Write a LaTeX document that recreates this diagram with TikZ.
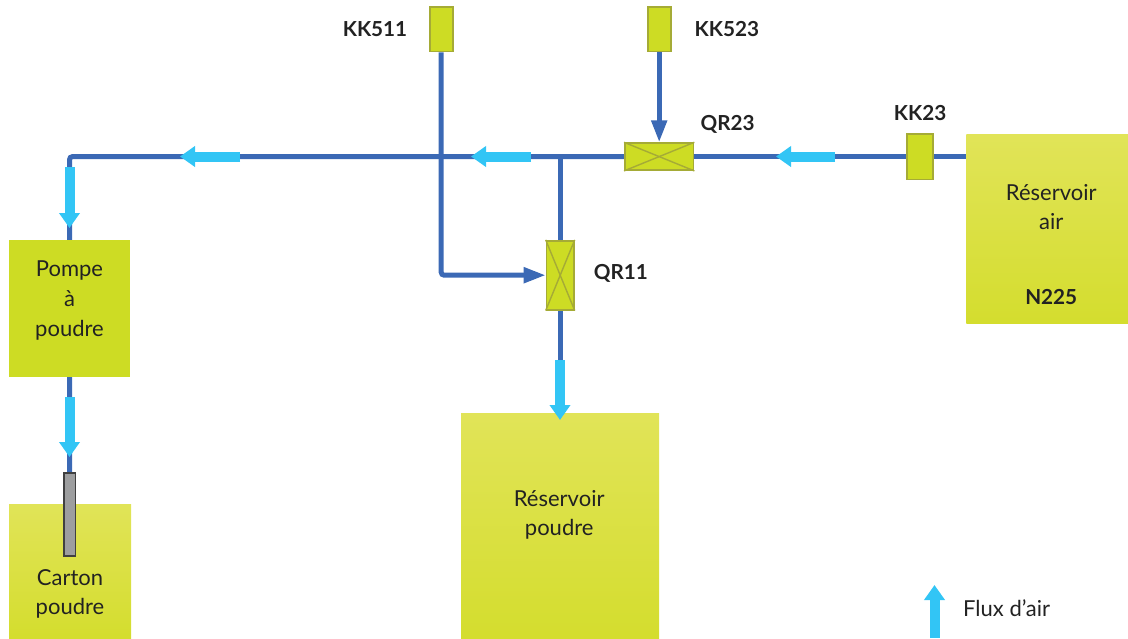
\documentclass[tikz,border=0pt]{standalone}
\usepackage{fontspec}
\usepackage{xcolor}
\setmainfont{Lato}
\usetikzlibrary{arrows.meta, positioning, backgrounds}
\definecolor{pipeblue}{HTML}{3B69B5}
\definecolor{flowblue}{HTML}{32C5F5}
\definecolor{lime}{HTML}{CDDC24}
\definecolor{limetop}{HTML}{E1E458}
\definecolor{limebot}{HTML}{D4DD2E}
\definecolor{limeedge}{HTML}{A5AB36}
\definecolor{inkdark}{HTML}{222222}
\definecolor{rodgrey}{HTML}{9D9E9F}

\begin{document}
\begin{tikzpicture}[
    x=1pt, y=-1pt,
    node distance=20pt,
    tank/.style={rectangle, shading=axis, top color=limetop, bottom color=limebot, outer sep=0pt, inner sep=0pt},
    pump/.style={rectangle, fill=lime, outer sep=0pt, inner sep=0pt},
    sensor/.style={rectangle, draw=limeedge, line width=1.6pt, fill=lime, outer sep=0.8pt, inner sep=0pt, minimum width=23pt, minimum height=44.4pt},
    valve/.style={rectangle, draw=limeedge, line width=1.6pt, fill=lime, outer sep=0.8pt, inner sep=0pt},
    rod/.style={rectangle, draw=black!75, line width=1.4pt, fill=rodgrey, outer sep=0.7pt, inner sep=0pt, minimum width=11.3pt, minimum height=83pt},
    tanktext/.style={align=center, font=\fontsize{22}{29.7}\selectfont, text=inkdark, inner sep=0pt},
    tag/.style={font=\fontsize{20.7}{24}\selectfont\bfseries, text=inkdark, inner sep=0pt},
    pipe/.style={draw=pipeblue, line width=5pt, rounded corners=3pt},
    feed/.style={pipe, -{Triangle[length=22pt, width=15pt]}},
    flow/.style={draw=flowblue, line width=10pt, -{Triangle[length=15pt, width=20pt]}}
]
\useasboundingbox (0,0) rectangle (1128,638);

\node[pump, minimum width=121pt, minimum height=137pt] (pompe) at (69.5,308.5) {};
\node[tank, minimum width=122pt, minimum height=134pt, below=127pt of pompe, xshift=0.5pt] (carton) {};
\node[rod] (canne) at (69.7,514.5) {};
\node[valve, minimum width=68.7pt, minimum height=27pt] (qr23) at (659.2,156.6) {};
\node[sensor, above=90pt of qr23] (kk523) {};
\node[sensor, left=193.4pt of kk523] (kk511) {};
\node[sensor, minimum width=26pt, minimum height=45.4pt, right=212pt of qr23] (kk23) {};
\node[tank, minimum width=162pt, minimum height=189.5pt, right=32.3pt of kk23, yshift=-72.6pt] (air) {};
\node[valve, minimum width=27.4pt, minimum height=69pt, below=69pt of qr23, xshift=-99pt] (qr11) {};
\node[tank, minimum width=198pt, minimum height=225pt, below=103pt of qr11] (poudre) {};

% texts
\node[tanktext] (pompetxt) at ([yshift=8pt]pompe) {Pompe\\à\\poudre};
\node[tanktext] (cartontxt) at ([yshift=-23pt]carton) {Carton\\poudre};
\node[tanktext] (poudretxt) at ([xshift=-1pt, yshift=11pt]poudre) {Réservoir\\poudre};
\node[tanktext] (airtxt) at ([xshift=4pt, yshift=22pt]air) {Réservoir\\air};
\node[tag, below=59pt of airtxt] (n225) {N225};
\node[tag, left=21.5pt of kk511] (kk511lbl) {KK511};
\node[tag, right=23pt of kk523] (kk523lbl) {KK523};
\node[tag, above=12pt of kk23] (kk23lbl) {KK23};
\node[tag, right=6pt of qr23, yshift=32pt] (qr23lbl) {QR23};
\node[tag, right=19pt of qr11, yshift=1.5pt] (qr11lbl) {QR11};
\node[tanktext, anchor=west] (legend) at (963,608) {Flux d’air};

% flow arrow ends
\coordinate (f1a) at (240,156.5); \coordinate (f1b) at (180,156.5);
\coordinate (f2a) at (531,156.5); \coordinate (f2b) at (471,156.5);
\coordinate (f3a) at (835,156.5); \coordinate (f3b) at (776,156.5);
\coordinate (f4a) at (69.5,167); \coordinate (f4b) at (69.5,228);
\coordinate (f5a) at (69.5,397); \coordinate (f5b) at (69.5,457);
\coordinate (f6a) at (560,360); \coordinate (f6b) at (560,420);
\coordinate (f7a) at (934.5,638); \coordinate (f7b) at (934.5,585);
\coordinate (corner) at (pompe |- qr23);
\coordinate (jonction) at (qr11 |- qr23);
\coordinate (coude) at (kk511 |- qr11);

\begin{scope}[on background layer]
  \draw[pipe] (kk23) -- (air.west |- kk23);
  \draw[pipe] (kk23) -- (qr23);
  \draw[pipe] (qr23) -- (corner) -- (pompe.north);
  \draw[pipe] (pompe.south) -- (canne.north);
  \draw[pipe] (jonction) -- (qr11.north);
  \draw[pipe] (qr11.south) -- (poudre.north);
\end{scope}

\draw[feed] (kk523.south) -- (qr23.north);
\draw[feed] (kk511.south) -- (coude) -- (qr11.west);
\draw[line width=1.4pt, draw=limeedge] (qr23.north west) -- (qr23.south east);
\draw[line width=1.4pt, draw=limeedge] (qr23.south west) -- (qr23.north east);
\draw[line width=1.4pt, draw=limeedge] (qr11.north west) -- (qr11.south east);
\draw[line width=1.4pt, draw=limeedge] (qr11.south west) -- (qr11.north east);

\draw[flow] (f1a) -- (f1b);
\draw[flow] (f2a) -- (f2b);
\draw[flow] (f3a) -- (f3b);
\draw[flow] (f4a) -- (f4b);
\draw[flow] (f5a) -- (f5b);
\draw[flow] (f6a) -- (f6b);
\draw[flow] (f7a) -- (f7b);
\end{tikzpicture}
\end{document}
